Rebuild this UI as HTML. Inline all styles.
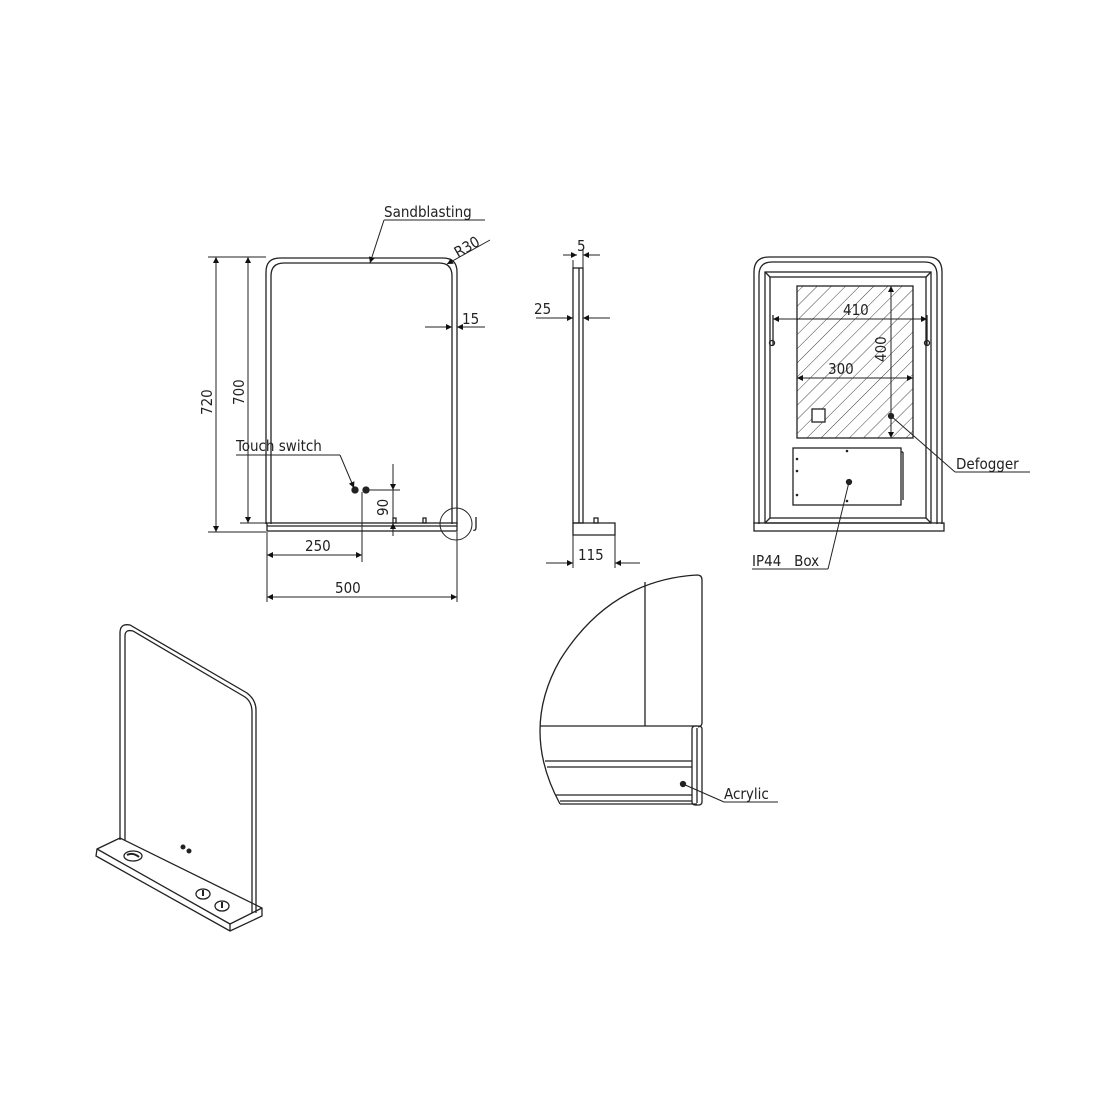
<!DOCTYPE html>
<html><head><style>html,body{margin:0;padding:0;background:#fff}svg{display:block}text{font-family:"DejaVu Sans Condensed","Liberation Sans Narrow","Liberation Sans",sans-serif;font-size:15px;fill:#222}</style></head>
<body>
<svg width="1118" height="1118" viewBox="0 0 1118 1118" xmlns="http://www.w3.org/2000/svg">
<defs>
<marker id="a" viewBox="0 0 10 10" refX="10" refY="5" markerWidth="11" markerHeight="6" orient="auto-start-reverse" markerUnits="userSpaceOnUse"><path d="M0,0L10,5L0,10z" fill="#111"/></marker>
<pattern id="h" width="10" height="10" patternUnits="userSpaceOnUse" patternTransform="rotate(45)"><line x1="0" y1="0" x2="0" y2="10" stroke="#444" stroke-width="1"/></pattern>
</defs>
<g fill="none" stroke="#222" stroke-width="1.3">
<path d="M266,524 V272 Q266,258 280,258 H443 Q457,258 457,272 V524"/>
<path d="M271,524 V276 Q271,263 284,263 H439 Q452,263 452,276 V524"/>
<rect x="267" y="523" width="190" height="8"/>
<line x1="267" y1="526" x2="457" y2="526"/>
<rect x="393" y="518" width="3" height="5"/><rect x="423" y="518" width="3" height="5"/>
<circle cx="456" cy="524" r="16" stroke-width="1"/>
<circle cx="355" cy="490" r="3" fill="#222"/><circle cx="366" cy="490" r="3" fill="#222"/>
<g stroke-width="1">
<line x1="208" y1="257" x2="266" y2="257"/><line x1="208" y1="532" x2="266" y2="532"/>
<line x1="216" y1="257" x2="216" y2="532" marker-start="url(#a)" marker-end="url(#a)"/>
<line x1="240" y1="523" x2="266" y2="523"/>
<line x1="248" y1="257" x2="248" y2="523" marker-start="url(#a)" marker-end="url(#a)"/>
<line x1="267" y1="532" x2="267" y2="602"/><line x1="457" y1="532" x2="457" y2="602"/>
<line x1="362" y1="492" x2="362" y2="562"/>
<line x1="267" y1="555" x2="362" y2="555" marker-start="url(#a)" marker-end="url(#a)"/>
<line x1="267" y1="597" x2="457" y2="597" marker-start="url(#a)" marker-end="url(#a)"/>
<line x1="366" y1="490" x2="400" y2="490"/>
<line x1="393" y1="464" x2="393" y2="490" marker-end="url(#a)"/>
<line x1="393" y1="536" x2="393" y2="523" marker-end="url(#a)"/>
<line x1="393" y1="490" x2="393" y2="523"/>
<line x1="425" y1="327" x2="452" y2="327" marker-end="url(#a)"/>
<line x1="485" y1="327" x2="457" y2="327" marker-end="url(#a)"/>
<line x1="236" y1="455" x2="340" y2="455"/>
<line x1="340" y1="455" x2="354" y2="488" marker-end="url(#a)"/>
<line x1="384" y1="220" x2="485" y2="220"/>
<line x1="384" y1="220" x2="370" y2="263" marker-end="url(#a)"/>
<line x1="490" y1="240" x2="447" y2="264" marker-end="url(#a)"/>
</g>
<rect x="573" y="268" width="10" height="255"/>
<line x1="579" y1="268" x2="579" y2="523"/>
<path d="M573,523 H615 V535 H573 Z"/>
<rect x="594" y="518" width="4" height="5"/>
<g stroke-width="1">
<line x1="573" y1="260" x2="573" y2="268"/><line x1="583" y1="250" x2="583" y2="268"/>
<line x1="563" y1="255" x2="577" y2="255" marker-end="url(#a)"/>
<line x1="600" y1="255" x2="583" y2="255" marker-end="url(#a)"/>
<line x1="536" y1="318" x2="573" y2="318" marker-end="url(#a)"/>
<line x1="610" y1="318" x2="583" y2="318" marker-end="url(#a)"/>
<line x1="573" y1="535" x2="573" y2="568"/><line x1="615" y1="535" x2="615" y2="568"/>
<line x1="546" y1="563" x2="573" y2="563" marker-end="url(#a)"/>
<line x1="640" y1="563" x2="615" y2="563" marker-end="url(#a)"/>
</g>
<path d="M754,524 V272 Q754,257 769,257 H928 Q942,257 942,272 V524"/>
<path d="M759,524 V275 Q759,262 772,262 H925 Q937,262 937,275 V524"/>
<rect x="765" y="272" width="166" height="251"/>
<rect x="770" y="277" width="156" height="241"/>
<line x1="765" y1="272" x2="770" y2="277"/><line x1="931" y1="272" x2="926" y2="277"/>
<line x1="765" y1="523" x2="770" y2="518"/><line x1="931" y1="523" x2="926" y2="518"/>
<rect x="754" y="523" width="190" height="8"/>
<rect x="797" y="286" width="116" height="152" fill="url(#h)"/>
<rect x="812" y="409" width="13" height="13" fill="#fff"/>
<rect x="793" y="448" width="108" height="57"/>
<line x1="901" y1="452" x2="903" y2="452"/><line x1="903" y1="452" x2="903" y2="500"/>
<line x1="773" y1="315" x2="773" y2="345"/><circle cx="772" cy="343" r="2.5"/>
<line x1="927" y1="315" x2="927" y2="345"/><circle cx="927" cy="343" r="2.5"/>
<g stroke-width="1">
<line x1="773" y1="319" x2="927" y2="319" marker-start="url(#a)" marker-end="url(#a)"/>
<line x1="797" y1="378" x2="913" y2="378" marker-start="url(#a)" marker-end="url(#a)"/>
<line x1="891" y1="286" x2="891" y2="438" marker-start="url(#a)" marker-end="url(#a)"/>
<line x1="891" y1="416" x2="955" y2="472"/><line x1="955" y1="472" x2="1030" y2="472"/>
<line x1="849" y1="482" x2="828" y2="569"/><line x1="752" y1="569" x2="828" y2="569"/>
</g>
<circle cx="891" cy="416" r="2.5" fill="#222"/><circle cx="849" cy="482" r="2.5" fill="#222"/>
<g fill="#222" stroke="none"><circle cx="797" cy="459" r="1.3"/><circle cx="797" cy="471" r="1.3"/><circle cx="797" cy="495" r="1.3"/><circle cx="847" cy="451" r="1.3"/><circle cx="847" cy="501" r="1.3"/></g>
<path d="M560,804 Q520,730 560,660 Q610,580 697,575 Q702,575 702,580 V723 Q702,726 698,727"/>
<line x1="645" y1="582" x2="645" y2="726"/>
<line x1="540" y1="726" x2="697" y2="726"/>
<rect x="692" y="726" width="10" height="79" rx="3"/>
<line x1="697" y1="728" x2="697" y2="803"/>
<line x1="545" y1="761" x2="692" y2="761"/><line x1="547" y1="767" x2="692" y2="767"/>
<line x1="556" y1="795" x2="692" y2="795"/><line x1="560" y1="801" x2="692" y2="801"/>
<line x1="560" y1="804" x2="697" y2="804"/>
<line x1="683" y1="784" x2="724" y2="802" stroke-width="1"/><line x1="724" y1="802" x2="778" y2="802" stroke-width="1"/>
<circle cx="683" cy="784" r="2.5" fill="#222"/>
<path d="M120,840 V633 Q120,623 130,625 L247,693 Q256,700 256,710 V913"/>
<path d="M125,840 V636 Q125,629 133,631 L245,697 Q252,702 252,712 V913"/>
<path d="M97,849 L120,838 L262,908 L262,916 L230,931 L96,856 Z"/>
<line x1="97" y1="849" x2="230" y2="924"/><line x1="230" y1="924" x2="262" y2="908"/><line x1="230" y1="924" x2="230" y2="931"/>
<ellipse cx="133" cy="856" rx="9" ry="5"/>
<path d="M127,855 Q133,852 139,857" stroke-width="2"/>
<ellipse cx="203" cy="894" rx="7" ry="5"/><ellipse cx="222" cy="906" rx="7" ry="5"/>
<line x1="203" y1="890" x2="203" y2="896" stroke-width="2"/><line x1="222" y1="902" x2="222" y2="908" stroke-width="2"/>
</g>
<circle cx="183" cy="847" r="2.5" fill="#222"/><circle cx="189" cy="851" r="2.5" fill="#222"/>
<text x="384" y="217">Sandblasting</text>
<text x="458" y="258" transform="rotate(-30 458 258)">R30</text>
<text x="462" y="324">15</text>
<text x="212" y="415" transform="rotate(-90 212 415)">720</text>
<text x="244" y="405" transform="rotate(-90 244 405)">700</text>
<text x="236" y="451">Touch switch</text>
<text x="388" y="516" transform="rotate(-90 388 516)">90</text>
<text x="474" y="528">J</text>
<text x="305" y="551">250</text>
<text x="335" y="593">500</text>
<text x="577" y="251">5</text>
<text x="534" y="314">25</text>
<text x="578" y="560">115</text>
<text x="843" y="315">410</text>
<text x="828" y="374">300</text>
<text x="886" y="362" transform="rotate(-90 886 362)">400</text>
<text x="956" y="469">Defogger</text>
<text x="752" y="566" xml:space="preserve">IP44   Box</text>
<text x="724" y="799">Acrylic</text>
</svg>
</body></html>
